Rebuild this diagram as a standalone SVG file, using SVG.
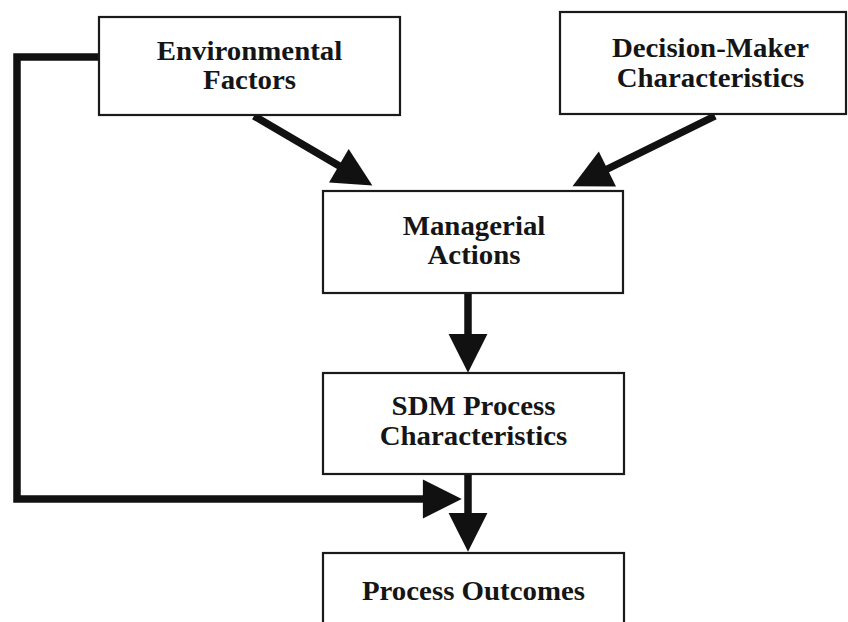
<svg xmlns="http://www.w3.org/2000/svg" width="848" height="622" viewBox="0 0 848 622">
<style>
.box{fill:#fff;stroke:#1a1a1a;stroke-width:2.2}
.lbl{font-family:"Liberation Serif","Times New Roman",serif;font-weight:bold;font-size:26.5px;fill:#151515;text-anchor:middle}
.conn{fill:none;stroke:#111;stroke-width:7.5;stroke-linejoin:miter}
</style>
<defs>
<marker id="ah" markerUnits="userSpaceOnUse" markerWidth="40" markerHeight="40" refX="1" refY="0" viewBox="0 -18 36 36" orient="auto" overflow="visible">
<path d="M0,-17.5 L35,0 L0,17.5 Z" fill="#111"/>
</marker>
</defs>
<rect width="848" height="622" fill="#fff"/>
<g id="connectors">
<path class="conn" d="M99,57 H17 V499 H424" marker-end="url(#ah)"/>
<path class="conn" d="M254,116 L339.8,166.3" marker-end="url(#ah)"/>
<path class="conn" d="M715,116 L606.4,169.5" marker-end="url(#ah)"/>
<path class="conn" d="M468,293 V335" marker-end="url(#ah)"/>
<path class="conn" d="M468,474 V514" marker-end="url(#ah)"/>
</g>
<g id="env">
<rect class="box" x="99" y="17" width="301" height="98"/>
<g transform="translate(249.5 0) scale(1.09 1)">
<text class="lbl" x="0" y="60">Environmental</text>
<text class="lbl" x="0" y="89.5">Factors</text>
</g>
</g>
<g id="dm">
<rect class="box" x="560" y="12" width="286" height="102"/>
<g transform="translate(710.5 0) scale(1.09 1)">
<text class="lbl" x="0" y="57.5">Decision-Maker</text>
<text class="lbl" x="0" y="87">Characteristics</text>
</g>
</g>
<g id="ma">
<rect class="box" x="323" y="191" width="300" height="102"/>
<g transform="translate(474 0) scale(1.09 1)">
<text class="lbl" x="0" y="235">Managerial</text>
<text class="lbl" x="0" y="264.5">Actions</text>
</g>
</g>
<g id="sdm">
<rect class="box" x="323" y="373" width="301" height="101"/>
<g transform="translate(473.5 0) scale(1.09 1)">
<text class="lbl" x="0" y="415.5">SDM Process</text>
<text class="lbl" x="0" y="445">Characteristics</text>
</g>
</g>
<g id="po">
<rect class="box" x="323" y="553" width="301" height="80"/>
<g transform="translate(473.5 0) scale(1.09 1)">
<text class="lbl" x="0" y="600">Process Outcomes</text>
</g>
</g>
</svg>
